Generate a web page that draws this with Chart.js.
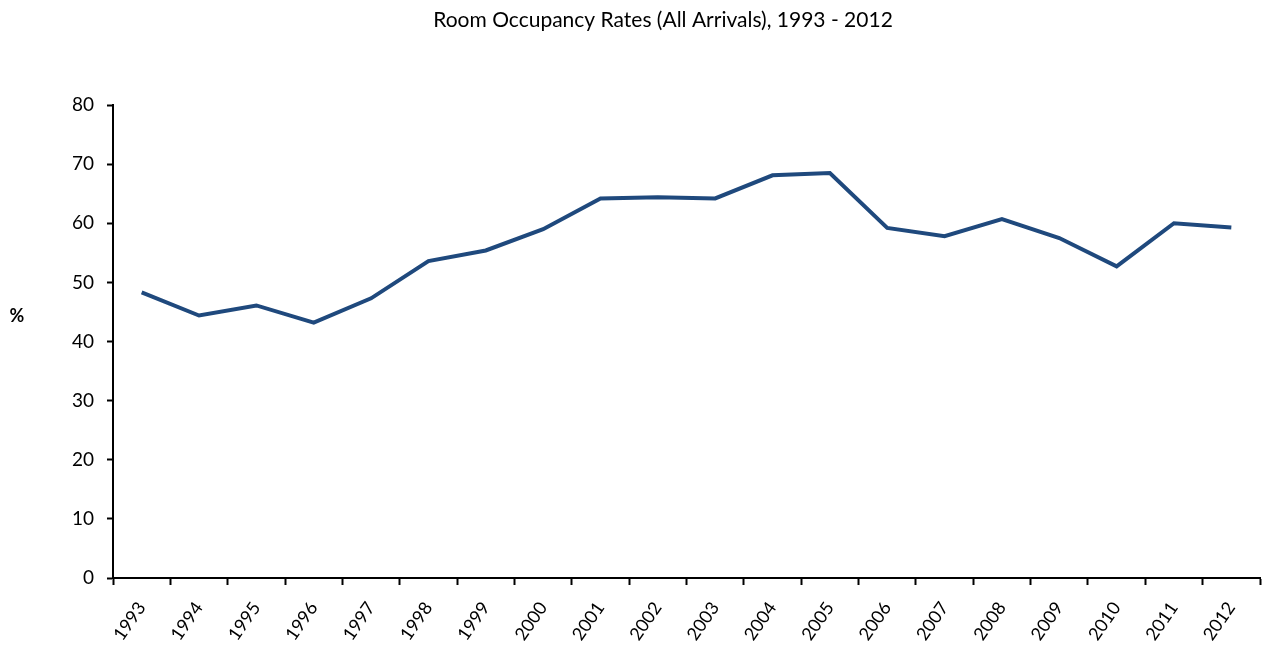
<!DOCTYPE html>
<html>
<head>
<meta charset="utf-8">
<script src="https://cdn.jsdelivr.net/npm/chart.js@4"></script>
<style>
  body { margin: 0; background: #fff; }
  canvas { display: block; }
</style>
</head>
<body>
<canvas id="grafico" width="1265" height="646"></canvas>
<script>
const anios = ['1993', '1994', '1995', '1996', '1997', '1998', '1999', '2000', '2001', '2002',
  '2003', '2004', '2005', '2006', '2007', '2008', '2009', '2010', '2011', '2012'];
const ocupacion = [48.3, 44.4, 46.1, 43.2, 47.3, 53.6, 55.4, 59.0, 64.2, 64.4,
  64.2, 68.1, 68.5, 59.2, 57.8, 60.7, 57.5, 52.7, 60.0, 59.3];
const ticksY = [0, 10, 20, 30, 40, 50, 60, 70, 80];
const titulo = 'Room Occupancy Rates (All Arrivals), 1993 - 2012';

const fuente = 'Lato, "Open Sans", sans-serif';

// titulo (un poco a la derecha del centro) y "%" horizontal a la izquierda
const textos = {
  id: 'textos',
  afterDraw(chart) {
    const ctx = chart.ctx;
    const area = chart.chartArea;
    ctx.save();
    ctx.fillStyle = '#000';
    ctx.textAlign = 'center';
    ctx.textBaseline = 'middle';
    ctx.font = '21px ' + fuente;
    ctx.fillText(titulo, 663, 20);
    ctx.font = 'bold 18px ' + fuente;
    ctx.fillText('%', 17, area.top + (area.bottom - area.top) * 0.447);
    ctx.restore();
  }
};

new Chart(document.getElementById('grafico'), {
  type: 'line',
  data: {
    labels: anios,
    datasets: [{
      label: 'Ocupación',
      data: ocupacion,
      borderColor: '#1F497D',
      borderWidth: 4,
      pointRadius: 0,
      tension: 0,
      fill: false
    }]
  },
  options: {
    responsive: false,
    animation: false,
    layout: { padding: { left: 0, right: 5, top: 105, bottom: 0 } },
    plugins: {
      legend: { display: false },
      tooltip: { enabled: false },
      title: { display: false }
    },
    scales: {
      x: {
        offset: true,
        grid: {
          offset: true,
          drawOnChartArea: false,
          drawTicks: true,
          tickLength: 7,
          color: '#000',
          tickWidth: 2
        },
        border: { color: '#000', width: 2 },
        ticks: {
          color: '#000',
          font: { family: fuente, size: 18 },
          minRotation: 55,
          maxRotation: 55,
          padding: 13
        },
        afterFit: scale => { scale.height = 68; }
      },
      y: {
        min: 0,
        max: 80,
        afterBuildTicks: scale => {
          scale.ticks = ticksY.map(v => ({ value: v }));
        },
        grid: {
          drawOnChartArea: false,
          drawTicks: true,
          tickLength: 6,
          color: '#000',
          tickWidth: 2
        },
        border: { color: '#000', width: 2 },
        ticks: {
          color: '#000',
          font: { family: fuente, size: 19 },
          padding: 13
        },
        afterFit: scale => { scale.width = 113; }
      }
    }
  },
  plugins: [textos]
});
</script>
</body>
</html>
